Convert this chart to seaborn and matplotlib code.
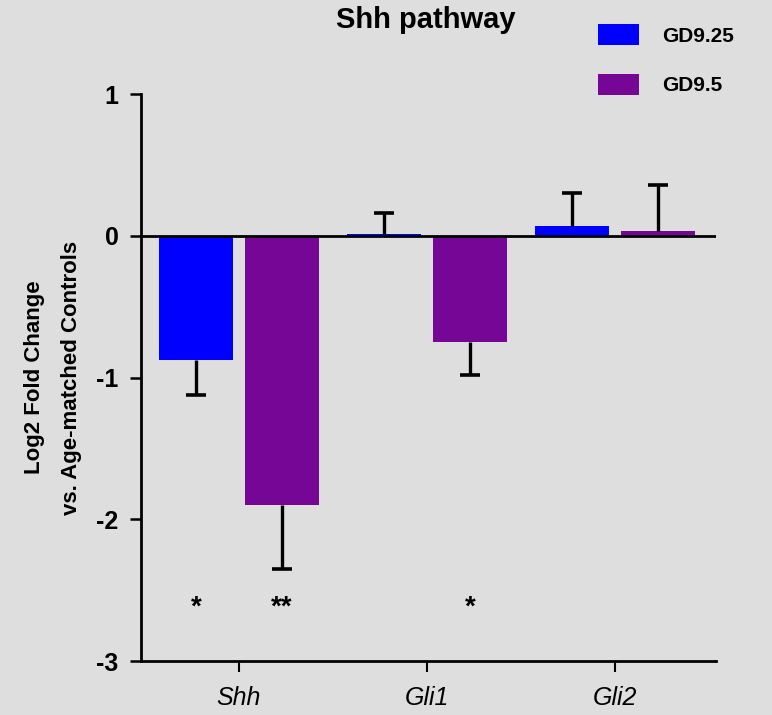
import pandas as pd
import matplotlib
matplotlib.use("Agg")
import matplotlib.pyplot as plt
import matplotlib.patches as mpatches
import seaborn as sns

# data
genes = ["Shh", "Gli1", "Gli2"]
groups = ["GD9.25", "GD9.5"]
gd925_mean = [-0.875, 0.01, 0.07]
gd95_mean = [-1.90, -0.75, 0.035]
gd925_err = [0.25, 0.15, 0.23]
gd95_err = [0.45, 0.23, 0.32]
stars_gd925 = ["*", "", ""]
stars_gd95 = ["**", "*", ""]

colors = {"GD9.25": "#0000ff", "GD9.5": "#760696"}
bg = "#dedede"

df = pd.DataFrame({
    "gene": genes * 2,
    "group": ["GD9.25"] * 3 + ["GD9.5"] * 3,
    "value": gd925_mean + gd95_mean,
})

sns.set_style("white")
plt.rcParams["font.family"] = ["Liberation Sans", "DejaVu Sans"]
plt.rcParams["text.color"] = "black"
plt.rcParams["axes.labelcolor"] = "black"
plt.rcParams["xtick.color"] = "black"
plt.rcParams["ytick.color"] = "black"

fig = plt.figure(figsize=(7.72, 7.15), dpi=100, facecolor=bg)
ax = fig.add_axes([0.1826, 0.0755, 0.7449, 0.793])
ax.set_facecolor(bg)

sns.barplot(data=df, x="gene", y="value", hue="group", order=genes,
            hue_order=groups, palette=colors, width=0.915, gap=0.14,
            saturation=1, legend=False, ax=ax, errorbar=None, linewidth=0)

# one-sided error bars, pointing away from zero, cap only at the far end
means = {"GD9.25": gd925_mean, "GD9.5": gd95_mean}
errs = {"GD9.25": gd925_err, "GD9.5": gd95_err}
stars = {"GD9.25": stars_gd925, "GD9.5": stars_gd95}
cap = 0.055
for cont, grp in zip(ax.containers, groups):
    for bar, m, e, s in zip(cont.patches, means[grp], errs[grp], stars[grp]):
        xc = bar.get_x() + bar.get_width() / 2
        end = m - e if m < 0 else m + e
        ax.vlines(xc, m, end, color="black", lw=2.4, zorder=3)
        ax.hlines(end, xc - cap, xc + cap, color="black", lw=2.6, zorder=3)
        if s:
            ax.text(xc, -2.62, s, ha="center", va="center", fontsize=20,
                    fontweight="bold", color="black")

ax.axhline(0, color="black", lw=2, zorder=4)

ax.set_xlim(-0.521, 2.537)
ax.set_ylim(-3, 1)
ax.set_yticks([1, 0, -1, -2, -3])
ax.set_yticklabels(["1", "0", "-1", "-2", "-3"], fontsize=18, fontweight="bold")
ax.set_xticks(range(len(genes)))
ax.set_xticklabels(genes, fontsize=18, fontstyle="italic")
ax.tick_params(axis="y", direction="out", length=8, width=1.8, pad=8, left=True)
ax.tick_params(axis="x", direction="out", length=8, width=1.5, pad=10, bottom=True)
for side in ["top", "right"]:
    ax.spines[side].set_visible(False)
for side in ["left", "bottom"]:
    ax.spines[side].set_linewidth(2)
    ax.spines[side].set_color("black")

ax.set_xlabel("")
ax.set_ylabel("Log2 Fold Change\nvs. Age-matched Controls", fontsize=16,
              fontweight="bold", linespacing=2.0)
ax.yaxis.set_label_coords(-0.103, 0.5)

fig.text(0.551, 0.972, "Shh pathway", ha="center", va="center",
         fontsize=21, fontweight="bold")

handles = [mpatches.Patch(color=colors[g], label=g, lw=0) for g in groups]
fig.legend(handles=handles, loc="upper left", bbox_to_anchor=(0.750, 0.992),
           frameon=False, prop={"size": 15, "weight": "bold"},
           handlelength=1.97, handleheight=1.15, labelspacing=1.35,
           handletextpad=1.1)

fig.savefig("out.png", dpi=100, facecolor=bg)
